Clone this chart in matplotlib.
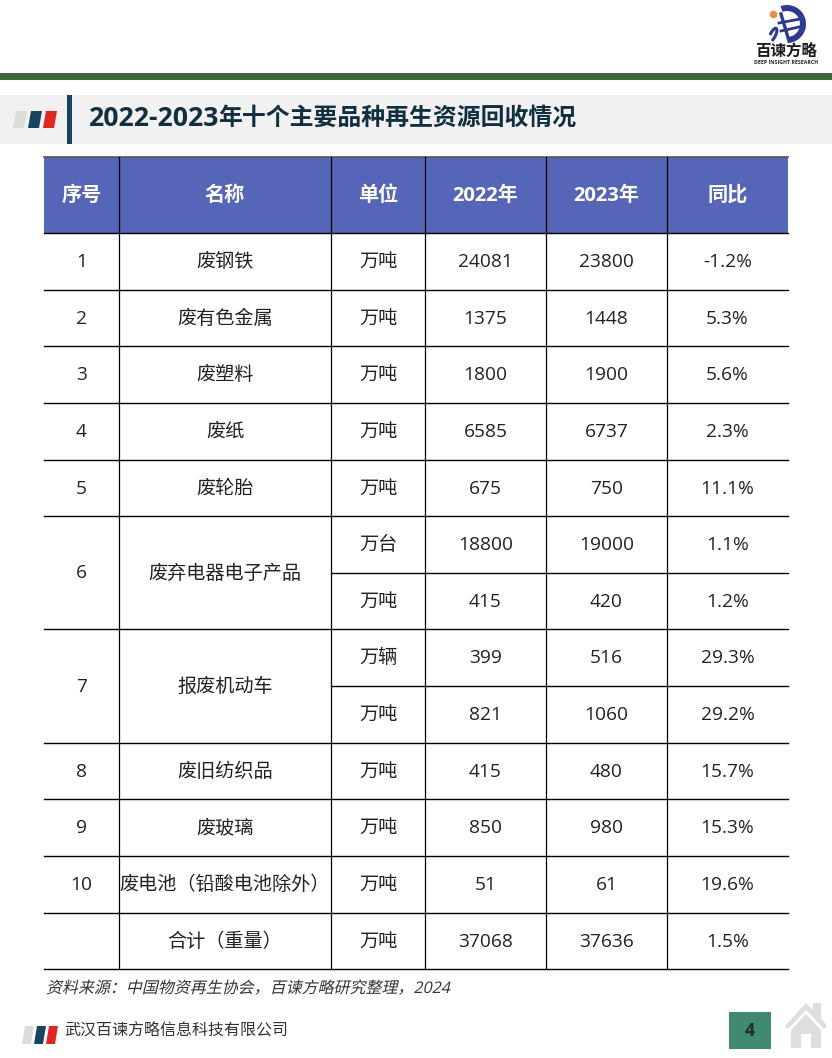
import matplotlib
matplotlib.use('Agg')
import matplotlib.pyplot as plt
from matplotlib.patches import Rectangle, Polygon, Circle, PathPatch, Wedge
from matplotlib.path import Path
from matplotlib.patheffects import AbstractPathEffect
from matplotlib.transforms import Affine2D

plt.rcParams['font.family'] = ['Open Sans', 'Noto Sans CJK SC', 'DejaVu Sans']

title_years = '2022-2023'
title_rest = '年十个主要品种再生资源回收情况'
headers = ['序号', '名称', '单位', '2022年', '2023年', '同比']
numbers = ['1', '2', '3', '4', '5', '6', '7', '8', '9', '10', '']
names = ['废钢铁', '废有色金属', '废塑料', '废纸', '废轮胎', '废弃电器电子产品', '报废机动车',
         '废旧纺织品', '废玻璃', '废电池（铅酸电池除外）', '合计（重量）']
# how many table rows each item takes
spans = [1, 1, 1, 1, 1, 2, 2, 1, 1, 1, 1]
units = ['万吨', '万吨', '万吨', '万吨', '万吨', '万台', '万吨', '万辆', '万吨', '万吨', '万吨', '万吨', '万吨']
v2022 = ['24081', '1375', '1800', '6585', '675', '18800', '415', '399', '821', '415', '850', '51', '37068']
v2023 = ['23800', '1448', '1900', '6737', '750', '19000', '420', '516', '1060', '480', '980', '61', '37636']
yoy = ['-1.2%', '5.3%', '5.6%', '2.3%', '11.1%', '1.1%', '1.2%', '29.3%', '29.2%', '15.7%', '15.3%', '19.6%', '1.5%']
source = '资料来源：中国物资再生协会，百谏方略研究整理，2024'
company = '武汉百谏方略信息科技有限公司'
page = '4'

col_x = [44, 119, 331, 425, 546, 667, 788]
row_y = [232.5, 289.5, 346, 402.5, 459.5, 516, 572.5, 629, 685.5, 742.5, 799, 855.5, 912.5, 969]
head_top = 157


class Slant(AbstractPathEffect):
    # CJK fonts have no italic, so lean the glyphs instead
    def draw_path(self, renderer, gc, tpath, affine, rgbFace=None):
        renderer.draw_path(gc, tpath, Affine2D().skew_deg(13, 0) + affine, rgbFace)


fig = plt.figure(figsize=(8.32, 10.58), dpi=100)
ax = fig.add_axes([0, 0, 1, 1])
ax.set_xlim(0, 832)
ax.set_ylim(1058, 0)
ax.axis('off')


def flag(x, y, h, w=11, gap=4, skew=3):
    # the grey / navy / red slanted bars
    for i, c in enumerate(['#dcdcdc', '#17455f', '#e2261f']):
        x0 = x + i * (w + gap)
        ax.add_patch(Polygon([(x0, y + h), (x0 + w, y + h), (x0 + w + skew, y), (x0 + skew, y)], fc=c, ec='none'))


# top band and title bar
ax.add_patch(Rectangle((0, 73), 832, 7, fc='#3e6a36', ec='none'))
ax.add_patch(Rectangle((0, 95), 832, 49, fc='#f1f1f1', ec='none'))
ax.add_patch(Rectangle((67, 95), 5, 49, fc='#17455f', ec='none'))
flag(13, 111, 17)
ax.text(89, 118.5, title_years, fontsize=19.2, fontweight='bold', color='#10303f', ha='left', va='center')
ax.text(218.5, 119, title_rest, fontsize=17.2, fontweight='bold', color='#10303f', ha='left', va='center')

# logo
ax.add_patch(Circle((773.5, 14.5), 3.8, fc='#ee8f3a', ec='none'))
ax.add_patch(Wedge((787, 24), 19, -110, 85, width=6, fc='#2c3a94', ec='none'))
ax.add_patch(PathPatch(Path([(770, 35), (776, 22), (781, 30), (772, 41)],
                            [Path.MOVETO, Path.CURVE4, Path.CURVE4, Path.CURVE4]),
                       fc='none', ec='#2c3a94', lw=2.2))
ax.plot([781, 789], [14, 41], color='#2c3a94', lw=2.4)
ax.plot([779, 800], [23, 19], color='#2c3a94', lw=2)
ax.plot([781, 799], [31, 27], color='#2c3a94', lw=2)
ax.text(786, 52.5, '百谏方略', fontsize=11.2, fontweight='bold', color='#1a1a1a', ha='center', va='center')
ax.text(786, 63, 'DEEP INSIGHT RESEARCH', fontsize=3.8, fontweight='bold', color='#222222', ha='center', va='center')

# table header
ax.add_patch(Rectangle((col_x[0], head_top), col_x[-1] - col_x[0], row_y[0] - head_top, fc='#5565b7', ec='none'))
for i, h in enumerate(headers):
    ax.text((col_x[i] + col_x[i + 1]) / 2, 196, h, fontsize=14.5, fontweight='bold', color='white',
            ha='center', va='center')

# rows
for i in range(len(units)):
    yc = (row_y[i] + row_y[i + 1]) / 2 + 1
    for j, val in enumerate([units[i], v2022[i], v2023[i], yoy[i]]):
        ax.text((col_x[j + 2] + col_x[j + 3]) / 2, yc, val, fontsize=13.8, color='#222222', ha='center', va='center')

k = 0
starts = []
for num, name, sp in zip(numbers, names, spans):
    starts.append(k)
    yc = (row_y[k] + row_y[k + sp]) / 2 + 1
    ax.text((col_x[0] + col_x[1]) / 2, yc, num, fontsize=13.8, color='#222222', ha='center', va='center')
    ax.text((col_x[1] + col_x[2]) / 2, yc, name, fontsize=13.8, color='#222222', ha='center', va='center')
    k += sp
starts.append(k)

# grid lines
ax.plot([col_x[0], col_x[-1]], [head_top, head_top], color='#555555', lw=1.2)
for i in range(len(row_y)):
    x0 = col_x[0] if i in starts else col_x[2]
    ax.plot([x0, col_x[-1]], [row_y[i], row_y[i]], color='black', lw=1)
for x in col_x[1:-1]:
    ax.plot([x, x], [head_top, row_y[-1]], color='black', lw=0.9)

# footer
ax.text(46, 989, source, fontsize=11.5, color='#333333', ha='left', va='center', path_effects=[Slant()])
flag(22, 1026, 18, w=9, gap=3, skew=3)
ax.text(64, 1031, company, fontsize=11.5, color='#333333', ha='left', va='center')
ax.add_patch(Rectangle((729, 1012), 42, 37, fc='#3f8a70', ec='none'))
ax.text(750, 1030.5, page, fontsize=13, fontweight='bold', color='#1f2f2f', ha='center', va='center')

# home icon
ax.add_patch(Polygon([(785, 1026), (806, 1003), (813, 1010), (813, 1003), (821, 1003), (821, 1018), (827, 1026),
                      (824, 1029), (806, 1010), (788, 1029)], fc='#dedede', ec='none'))
ax.add_patch(Polygon([(791, 1030), (806, 1014), (821, 1030), (821, 1048), (811, 1048), (811, 1034), (801, 1034),
                      (801, 1048), (791, 1048)], fc='#dedede', ec='none'))

fig.savefig('out.png', dpi=100)
